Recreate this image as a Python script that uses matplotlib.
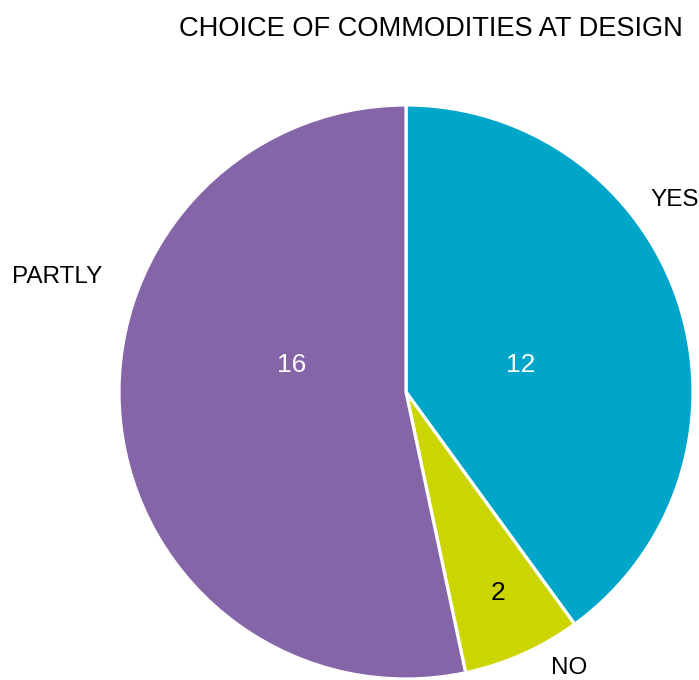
import numpy as np
import matplotlib.pyplot as plt

plt.rcParams['font.family'] = ['Liberation Sans', 'DejaVu Sans']

# survey answers
categories = ['YES', 'NO', 'PARTLY']
counts = [12, 2, 16]
colors = ['#00A6C9', '#CDD500', '#8465A8']
value_colors = ['white', 'black', 'white']
title = 'CHOICE OF COMMODITIES AT DESIGN'

# label placement: (radius, degrees away from the wedge middle)
value_place = {'YES': (0.41, -4.7), 'NO': (0.77, 0.5), 'PARTLY': (0.41, -19.3)}
name_place = {'YES': (1.15, 17.5), 'NO': (1.118, 6.6), 'PARTLY': (1.278, -24.2)}

W, H = 699, 680
fig = plt.figure(figsize=(W / 100, H / 100), dpi=100)
ax = fig.add_axes([0, 0, 1, 1])

wedges, _ = ax.pie(counts, colors=colors, startangle=90, counterclock=False,
                   radius=1.0, wedgeprops=dict(edgecolor='white', linewidth=2.3))

# pie radius 287px, centre at (406, 288) px from bottom left
R = 287.0
cx, cy = 406.0, 288.0
ax.set_xlim(-cx / R, (W - cx) / R)
ax.set_ylim(-cy / R, (H - cy) / R)
ax.set_aspect('auto')
ax.axis('off')

for w, name, n, vc in zip(wedges, categories, counts, value_colors):
    mid = (w.theta1 + w.theta2) / 2.0
    r, shift = value_place[name]
    a = np.deg2rad(mid + shift)
    ax.text(r * np.cos(a), r * np.sin(a), str(n), color=vc, fontsize=19,
            ha='center', va='center')
    r, shift = name_place[name]
    a = np.deg2rad(mid + shift)
    ax.text(r * np.cos(a), r * np.sin(a), name, color='black', fontsize=17.5,
            ha='center', va='center', clip_on=False)

fig.text(431 / W, 651 / H, title, fontsize=19.6, ha='center', va='center')

fig.savefig('out.png', dpi=100)
